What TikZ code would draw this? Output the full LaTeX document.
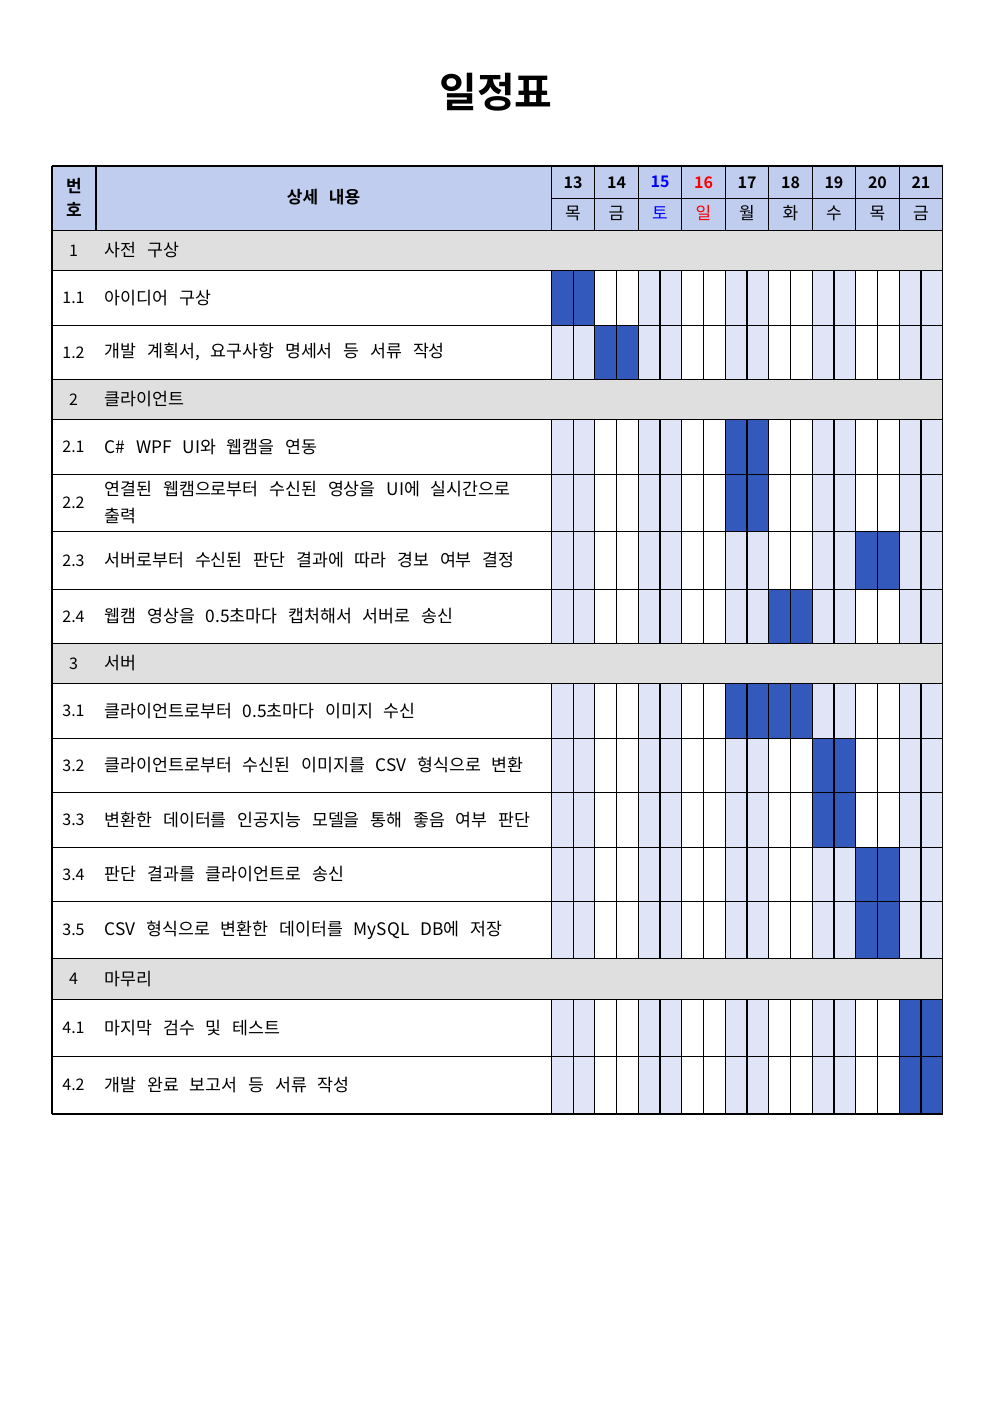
\documentclass[tikz,border=0pt]{standalone}
\usepackage{fontspec}
\setmainfont{Noto Sans CJK KR}[BoldFont={Noto Sans CJK KR Bold}]
\definecolor{hdr}{HTML}{C1CDEF}
\definecolor{sec}{HTML}{DFDFDF}
\definecolor{lite}{HTML}{DFE5F7}
\definecolor{dark}{HTML}{3259BB}
\definecolor{satblue}{HTML}{0000FF}
\definecolor{sunred}{HTML}{FF0000}
\newcommand\widespaces{\spaceskip=10.8pt plus 0pt minus 0pt\relax\xspaceskip=10.8pt\relax}
\tikzset{
  grid line/.style={line width=1.1pt, black},
  txt/.style={font=\fontsize{17.3}{27}\selectfont, inner sep=0pt, align=left, execute at begin node=\widespaces},
  numtxt/.style={font=\fontsize{16}{27}\selectfont, inner sep=0pt},
  hdrtxt/.style={font=\fontsize{17}{24}\selectfont\bfseries, inner sep=0pt, align=center, execute at begin node=\widespaces},
  daytxt/.style={font=\fontsize{16}{20}\selectfont\bfseries, inner sep=0pt},
  wdtxt/.style={font=\fontsize{17}{20}\selectfont, inner sep=0pt},
  titletxt/.style={font=\fontsize{41}{44}\selectfont\bfseries, inner sep=0pt}
}
\begin{document}
\begin{tikzpicture}[x=1pt,y=-1pt]
\useasboundingbox (0,0) rectangle (992,1403);
\def\L{52}\def\R{942.7}\def\D{551.3}\def\W{43.49}\def\H{21.745}
% title
\node[titletxt] (title) at (496,92) {일정표};
% header fill
\fill[hdr] (\L,166) rectangle (\R,230.3);
% light day columns
\foreach \i in {0,2,4,6,8}{
  \pgfmathsetmacro\xa{\D+\W*\i}
  \fill[lite] (\xa,230.3) rectangle ({\xa+\W},1114);
}
% section rows
\foreach \t/\b in {230.3/270.3, 379.3/419.3, 643.3/683.3, 958.3/999.3}{
  \fill[sec] (\L,\t) rectangle (\R,\b);
}
% dark cells
\foreach \t/\b/\d in {270.3/325.3/0, 325.3/379.3/1, 419.3/474.3/4, 474.3/531.3/4, 531.3/589.3/7, 589.3/643.3/5, 683.3/738.3/4, 683.3/738.3/5, 738.3/792.3/6, 792.3/847.3/6, 847.3/901.3/7, 901.3/958.3/7, 999.3/1056.3/8, 1056.3/1114/8}{
  \pgfmathsetmacro\xa{\D+\W*\d}
  \fill[dark] (\xa,\t) rectangle ({\xa+\W},\b);
}
% horizontal lines
\foreach \y in {166,230.3,270.3,325.3,379.3,419.3,474.3,531.3,589.3,643.3,683.3,738.3,792.3,847.3,901.3,958.3,999.3,1056.3,1114}{
  \draw[grid line] (\L,\y) -- (\R,\y);
}
\draw[grid line] (\D,198.3) -- (\R,198.3);
% outer verticals
\draw[grid line] (\L,166) -- (\L,1114);
\draw[grid line] (\R,166) -- (\R,1114);
% header verticals
\draw[grid line] (96,166) -- (96,230.3);
\foreach \i in {0,...,8}{
  \pgfmathsetmacro\xa{\D+\W*\i}
  \draw[grid line] (\xa,166) -- (\xa,230.3);
}
% task-block verticals
\foreach \t/\b in {270.3/379.3, 419.3/643.3, 683.3/958.3, 999.3/1114}{
  \foreach \k in {0,...,17}{
    \pgfmathsetmacro\xa{\D+\H*\k}
    \draw[grid line] (\xa,\t) -- (\xa,\b);
  }
}
% header texts
\node[hdrtxt] (hno) at (74,197) {번\\호};
\node[hdrtxt] (hdesc) at (323.6,197) {상세 내용};
\foreach \n/\w/\c [count=\i from 0] in {13/목/black, 14/금/black, 15/토/satblue, 16/일/sunred, 17/월/black, 18/화/black, 19/수/black, 20/목/black, 21/금/black}{
  \pgfmathsetmacro\xc{\D+\W*\i+\W/2}
  \node[daytxt, text=\c] (d\n) at (\xc,182.3) {\n};
  \node[wdtxt, text=\c] (w\n) at (\xc,213.5) {\w};
}
% row texts
\foreach \y/\n/\s [count=\j] in {
  250.3/1/사전 구상,
  297.8/1.1/아이디어 구상,
  352.3/1.2/{개발 계획서, 요구사항 명세서 등 서류 작성},
  399.3/2/클라이언트,
  446.8/2.1/C\# WPF UI와 웹캠을 연동,
  560.3/2.3/서버로부터 수신된 판단 결과에 따라 경보 여부 결정,
  616.3/2.4/웹캠 영상을 0.5초마다 캡처해서 서버로 송신,
  663.3/3/서버,
  710.8/3.1/클라이언트로부터 0.5초마다 이미지 수신,
  765.3/3.2/클라이언트로부터 수신된 이미지를 CSV 형식으로 변환,
  819.8/3.3/변환한 데이터를 인공지능 모델을 통해 좋음 여부 판단,
  874.3/3.4/판단 결과를 클라이언트로 송신,
  929.8/3.5/CSV 형식으로 변환한 데이터를 MySQL DB에 저장,
  978.8/4/마무리,
  1027.8/4.1/마지막 검수 및 테스트,
  1085.2/4.2/개발 완료 보고서 등 서류 작성}{
  \node[numtxt] (n\j) at (73.5,\y) {\n};
  \node[txt, anchor=west] (s\j) at (104.5,\y) {\s};
}
\node[numtxt] (n22) at (73.5,502.8) {2.2};
\node[txt, anchor=west] (s22) at (104.5,502.3) {연결된 웹캠으로부터 수신된 영상을 UI에 실시간으로\\출력};
\end{tikzpicture}
\end{document}
